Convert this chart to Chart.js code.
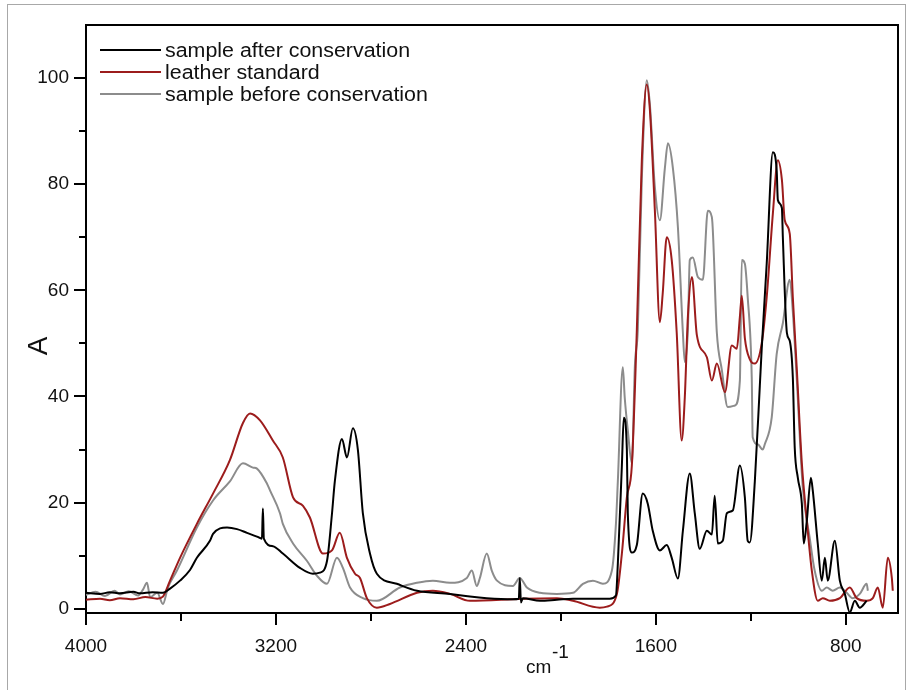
<!DOCTYPE html>
<html>
<head>
<meta charset="utf-8">
<script src="https://cdn.jsdelivr.net/npm/chart.js@4.4.1/dist/chart.umd.min.js"></script>
<style>
html,body{margin:0;padding:0;background:#fff;}
canvas{display:block;}
</style>
</head>
<body>
<canvas id="c" width="912" height="690"></canvas>
<script>
// ---- data ----
const seriesLabels = ["sample after conservation", "leather standard", "sample before conservation"];
const xTickValues = [4000, 3600, 3200, 2800, 2400, 2000, 1600, 1200, 800];
const xLabelValues = [4000, 3200, 2400, 1600, 800];
const yTickValues = [0, 10, 20, 30, 40, 50, 60, 70, 80, 90, 100];
const yLabelValues = [0, 20, 40, 60, 80, 100];

const wnAfter = [4000,3941,3900,3857,3800,3773,3720,3676,3646,3604,3562,3533,3478,3465,3406,3364,3322,3280,3259,3255,3251,3213,3171,3099,3044,3015,2985,2964,2952,2922,2901,2876,2855,2834,2804,2775,2691,2606,2467,2383,2312,2202,2177,2173,2168,2160,2088,2017,1949,1865,1794,1768,1760,1743,1735,1722,1718,1701,1680,1655,1634,1613,1583,1554,1533,1507,1486,1457,1436,1415,1385,1364,1352,1339,1318,1301,1276,1246,1225,1213,1204,1183,1162,1154,1133,1107,1091,1086,1069,1065,1048,1036,1023,1015,1002,985,977,964,947,939,918,901,888,876,846,825,804,783,762,741,712];
const valAfter = [3.0,2.8,3.1,2.9,3.2,2.9,3.1,3.0,3.8,5.3,7.3,9.6,12.8,14.1,15.3,15.0,14.3,13.6,13.2,18.9,13.2,11.8,10.4,7.7,6.6,6.8,9.0,17.9,24,32,28.5,34,30,18,10.4,6.6,4.7,3.4,2.8,2.3,2.0,1.8,1.9,5.8,1.2,2.0,1.5,1.7,1.9,1.9,1.9,2.5,8.5,27,36,30,18,10.6,12,21.7,19.8,14.7,11,12,9.6,5.7,14.7,25.5,18,11.3,14.7,14,21.3,12.3,12.8,18,18.5,27,21,12.8,12.5,24,42,49,65,86,82.6,77,75.5,70,52,50.5,43.6,30.4,24.7,19.8,12.3,16.6,24.7,22.3,12.3,5.3,9.6,5.3,12.8,5.3,2.8,-0.7,1.5,0.2,1.5];

const wnStd = [4000,3941,3900,3857,3800,3750,3700,3676,3646,3604,3533,3465,3394,3339,3309,3267,3213,3171,3128,3086,3057,3002,2964,2931,2901,2867,2846,2817,2775,2720,2606,2539,2467,2383,2160,2017,1949,1836,1806,1764,1743,1722,1701,1680,1659,1638,1625,1604,1583,1571,1554,1533,1512,1491,1478,1465,1448,1427,1385,1364,1343,1309,1280,1259,1246,1238,1225,1204,1183,1154,1133,1107,1086,1069,1057,1036,1023,1006,985,964,943,918,897,867,825,783,754,712,686,665,644,623,606,602];
const valStd = [1.7,1.9,1.6,2.0,1.8,2.2,1.9,2.3,5.3,9.6,16,21.7,28,35,36.8,35.5,31.7,28.5,21,19.4,17.2,10.4,11,14.3,9.6,6.6,5.8,2.0,0.2,0.9,3.0,3.4,2.8,1.5,1.9,2.0,1.5,0.2,0.4,2.8,10.4,21,27,52.5,84.5,98.8,94,75,54,59.4,70,65.7,52,31.7,39.8,55,62.5,51.5,47.4,43,46.2,40.8,49.6,49,55,59,51,47,46.2,50,58.7,74.5,84.5,80.8,73.2,70.7,58.7,45,27.4,16.6,7.2,1.5,2.0,1.5,2.0,4.0,2.0,1.5,2.0,4.0,0.2,9.6,5.8,3.4];

const wnBefore = [4000,3960,3920,3880,3857,3820,3780,3760,3743,3730,3700,3676,3655,3617,3533,3465,3394,3339,3297,3280,3238,3225,3183,3171,3128,3069,3027,2985,2943,2918,2888,2834,2775,2678,2606,2539,2467,2396,2375,2354,2341,2312,2291,2269,2202,2173,2143,2088,2017,1949,1907,1865,1823,1785,1768,1760,1739,1731,1718,1701,1688,1676,1659,1638,1625,1604,1583,1562,1549,1528,1507,1486,1478,1465,1457,1444,1423,1402,1381,1364,1343,1322,1297,1267,1246,1238,1225,1213,1196,1192,1171,1150,1141,1112,1091,1065,1036,1023,1006,981,952,931,901,880,855,825,796,771,741,712,707];
const valBefore = [2.6,3.2,2.4,3.4,2.7,3.3,2.5,3.6,4.9,2.2,3.0,0.9,4.0,7.2,15.3,20.4,24,27.4,26.6,26.4,23.6,22.3,18,16,12.3,9.0,6.2,4.7,9.6,7.7,4.0,2.0,1.5,4.0,4.9,5.3,4.9,5.8,7.2,4.3,5.8,10.4,7.2,5.3,4.3,5.8,4.0,3.0,2.8,3.0,4.7,5.3,4.7,7.2,16,24,45.5,39.8,33.6,27.4,46,52.5,81,99.6,95,79.4,73.2,83,87.7,83,71.9,52,46.5,52.5,65.7,66.2,62.5,62,75,73.8,52,45,38,38.3,43,65.7,65,58.7,43.6,32.3,31,30,31,36,48,53.8,62,56,43,22.8,13.4,7.2,3.4,4.0,3.4,4.0,3.0,2.0,2.8,4.7,3.4];

const seriesColors = ["#000000", "#9c1c1c", "#8c8c8c"];

// ---- chart ----
const toPts = (xs, ys) => xs.map((x, i) => ({x: x, y: ys[i]}));
const FONT = "'Liberation Sans', Arial, sans-serif";

const decorPlugin = {
  id: 'decor',
  afterDraw(chart) {
    const ctx = chart.ctx;
    const a = chart.chartArea;
    const xs = chart.scales.x, ys = chart.scales.y;
    ctx.save();
    // outer frame
    ctx.strokeStyle = '#a8a8a8';
    ctx.lineWidth = 1;
    ctx.strokeRect(7.5, 4.5, 898, 700);
    // top/right border of plot box
    ctx.strokeStyle = '#000';
    ctx.lineWidth = 2;
    ctx.beginPath();
    ctx.moveTo(a.left, a.top); ctx.lineTo(a.right, a.top); ctx.lineTo(a.right, a.bottom);
    ctx.stroke();
    // minor ticks
    ctx.beginPath();
    xTickValues.filter(v => !xLabelValues.includes(v)).forEach(v => {
      const px = Math.round(xs.getPixelForValue(v));
      ctx.moveTo(px, a.bottom); ctx.lineTo(px, a.bottom + 8);
    });
    yTickValues.filter(v => !yLabelValues.includes(v)).forEach(v => {
      const py = Math.round(ys.getPixelForValue(v));
      ctx.moveTo(a.left - 7, py); ctx.lineTo(a.left, py);
    });
    ctx.stroke();
    // legend
    const rows = [50, 72, 94];
    chart.data.datasets.forEach((ds, i) => {
      ctx.strokeStyle = ds.borderColor;
      ctx.lineWidth = 2;
      ctx.beginPath();
      ctx.moveTo(100, rows[i]); ctx.lineTo(161, rows[i]);
      ctx.stroke();
      ctx.save();
      ctx.translate(165, rows[i]);
      ctx.scale(1.07, 1);
      ctx.fillStyle = '#111';
      ctx.font = "20px " + FONT;
      ctx.textBaseline = 'middle';
      ctx.textAlign = 'left';
      ctx.fillText(ds.label, 0, 1);
      ctx.restore();
    });
    // axis titles
    ctx.fillStyle = '#111';
    ctx.font = "19px " + FONT;
    ctx.textBaseline = 'alphabetic';
    ctx.textAlign = 'left';
    ctx.fillText('cm', 526, 673);
    ctx.fillText('-1', 552, 658);
    ctx.save();
    ctx.translate(47, 346);
    ctx.rotate(-Math.PI / 2);
    ctx.font = "28px " + FONT;
    ctx.textAlign = 'center';
    ctx.textBaseline = 'alphabetic';
    ctx.fillText('A', 0, 0);
    ctx.restore();
    ctx.restore();
  }
};

new Chart(document.getElementById('c'), {
  type: 'line',
  data: {
    datasets: [
      {label: seriesLabels[0], data: toPts(wnAfter, valAfter), borderColor: seriesColors[0]},
      {label: seriesLabels[1], data: toPts(wnStd, valStd), borderColor: seriesColors[1]},
      {label: seriesLabels[2], data: toPts(wnBefore, valBefore), borderColor: seriesColors[2]}
    ].map(d => Object.assign(d, {borderWidth: 2, pointRadius: 0, fill: false, tension: 0, cubicInterpolationMode: 'monotone'}))
  },
  options: {
    responsive: false,
    devicePixelRatio: 1,
    animation: false,
    layout: {padding: {left: 0, top: 25, right: 14, bottom: 0}},
    plugins: {legend: {display: false}, tooltip: {enabled: false}},
    scales: {
      x: {
        type: 'linear', reverse: true, min: 580, max: 4000,
        afterBuildTicks: s => { s.ticks = xTickValues.map(v => ({value: v})); },
        afterFit: s => { s.height = 77; },
        ticks: {
          autoSkip: false, maxRotation: 0, padding: 10, color: '#111',
          font: {family: FONT, size: 19},
          callback: v => xLabelValues.includes(v) ? String(v) : ''
        },
        grid: {
          drawOnChartArea: false, drawTicks: true, tickLength: 12, lineWidth: 2,
          color: c => (c.tick && xLabelValues.includes(c.tick.value)) ? '#000' : 'rgba(0,0,0,0)'
        },
        border: {display: true, color: '#000', width: 2}
      },
      y: {
        type: 'linear', min: -0.8, max: 110,
        afterBuildTicks: s => { s.ticks = yTickValues.map(v => ({value: v})); },
        afterFit: s => { s.width = 86; },
        ticks: {
          autoSkip: false, padding: 5, color: '#111',
          font: {family: FONT, size: 19},
          callback: v => yLabelValues.includes(v) ? String(v) : ''
        },
        grid: {
          drawOnChartArea: false, drawTicks: true, tickLength: 12, lineWidth: 2,
          color: c => (c.tick && yLabelValues.includes(c.tick.value)) ? '#000' : 'rgba(0,0,0,0)'
        },
        border: {display: true, color: '#000', width: 2}
      }
    }
  },
  plugins: [decorPlugin]
});
</script>
</body>
</html>
